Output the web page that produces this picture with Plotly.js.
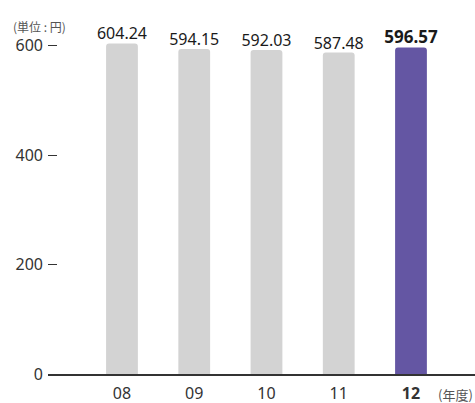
<!DOCTYPE html>
<html><head><meta charset="utf-8">
<script src="https://cdn.plot.ly/plotly-3.0.1.min.js"></script>
<style>html,body{margin:0;padding:0;background:#fff}</style>
</head><body>
<div id="chart" style="width:475px;height:403px"></div>
<script>
const years = ["08", "09", "10", "11", "12"];
const yearLabels = ["08", "09", "10", "11", "<b>12</b>"];
const values = [604.24, 594.15, 592.03, 587.48, 596.57];
const valueLabels = ["604.24", "594.15", "592.03", "587.48", "<b>596.57</b>"];
const barColors = ["#d3d3d3", "#d3d3d3", "#d3d3d3", "#d3d3d3", "#6456a3"];
const yTicks = [0, 200, 400, 600];
const yTickText = ["0", "200", "400", "600"];

const xIdx = years.map((_, i) => i);
const bars = {
  type: "bar",
  x: xIdx,
  y: values,
  width: 0.44,
  marker: {color: barColors, cornerradius: 3},
  cliponaxis: false,
  hoverinfo: "none"
};
const labels = {
  type: "scatter",
  mode: "text",
  x: xIdx,
  y: values,
  text: valueLabels,
  textposition: "top center",
  cliponaxis: false,
  textfont: {family: "Noto Sans", size: [16,16,16,16,17], color: "#1a1a1a"},
  hoverinfo: "none"
};
const layout = {
  width: 475, height: 403,
  margin: {l: 48, r: 0, t: 43, b: 29},
  paper_bgcolor: "#fff", plot_bgcolor: "#fff",
  showlegend: false,
  font: {family: "Noto Sans", color: "#333"},
  xaxis: {
    range: [-1.024, 4.886],
    tickmode: "array", tickvals: xIdx, ticktext: yearLabels,
    showgrid: false, zeroline: false,
    showline: true, linecolor: "#333", linewidth: 1.5,
    ticks: "", tickfont: {size: 16, color: "#333"}, ticklabelstandoff: 4
  },
  yaxis: {
    range: [0, 605],
    tickmode: "array", tickvals: yTicks, ticktext: yTickText,
    showgrid: false, zeroline: false, showline: false,
    ticks: "inside", ticklen: 9, tickwidth: 1.2, tickcolor: "#333",
    tickfont: {size: 16, color: "#333"}, ticklabelstandoff: 4
  },
  annotations: [
    {text: "(年度)", xref: "paper", yref: "paper", x: 1, y: 0, yshift: -20, xanchor: "right", yanchor: "middle", showarrow: false, font: {family: "Noto Sans CJK JP", size: 13, color: "#555"}},
    {text: "(単位 : 円)", xref: "paper", yref: "paper", x: 0, xshift: -37, y: 1, yshift: 17, xanchor: "left", yanchor: "middle", showarrow: false, font: {family: "Noto Sans CJK JP", size: 12, color: "#555"}}
  ]
};
Plotly.newPlot("chart", [bars, labels], layout, {displayModeBar: false, staticPlot: true});
</script>
</body></html>
